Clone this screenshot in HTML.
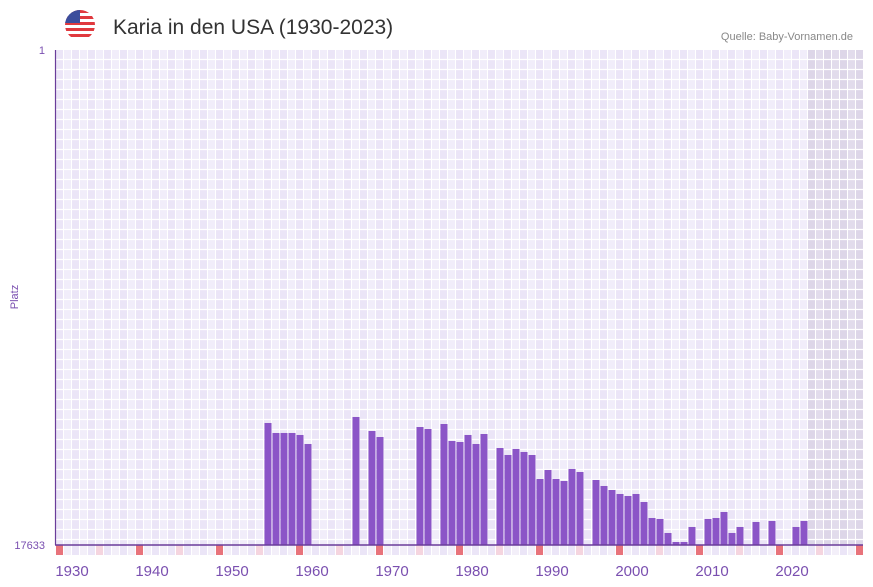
<!DOCTYPE html>
<html><head><meta charset="utf-8"><style>
body{margin:0;background:#fff;font-family:"Liberation Sans",sans-serif;}
svg{display:block}
</style></head><body>
<svg id="chart" width="873" height="587">
  <g>
    <clipPath id="fc"><circle cx="80" cy="25" r="15"/></clipPath>
    <g clip-path="url(#fc)">
      <rect x="65" y="10" width="30" height="30" fill="#fff"/>
      <rect x="65" y="10" width="30" height="3" fill="#e0393e"/>
      <rect x="65" y="16" width="30" height="3" fill="#e0393e"/>
      <rect x="65" y="22" width="30" height="3" fill="#e0393e"/>
      <rect x="65" y="28" width="30" height="3" fill="#e0393e"/>
      <rect x="65" y="34" width="30" height="3" fill="#e0393e"/>
      <rect x="65" y="10" width="15" height="13" fill="#3c4d9c"/>
    </g>
  </g>
  <text x="113" y="34" font-size="21" fill="#333">Karia in den USA (1930-2023)</text>
  <text x="853" y="40" font-size="11" fill="#888" text-anchor="end">Quelle: Baby-Vornamen.de</text>
  <text x="45" y="54" font-size="11" fill="#7a4fb0" text-anchor="end">1</text>
  <text x="45" y="549" font-size="11" fill="#7a4fb0" text-anchor="end">17633</text>
  <text x="18" y="297" font-size="11" fill="#7a4fb0" text-anchor="middle" transform="rotate(-90 18 297)">Platz</text>
  <g id="grid"></g>
  <g id="bars"></g>
  <g id="xlabels"></g>
  <line x1="55.5" y1="50" x2="55.5" y2="545" stroke="#6a3d9a" stroke-width="1.2"/>
  <line x1="55" y1="545" x2="863" y2="545" stroke="#6a3d9a" stroke-width="1.5"/>
</svg>
<script>
const years=[1956,1957,1958,1959,1960,1961,1967,1969,1970,1975,1976,1978,1979,1980,1981,1982,1983,1985,1986,1987,1988,1989,1990,1991,1992,1993,1994,1995,1997,1998,1999,2000,2001,2002,2003,2004,2005,2006,2007,2008,2009,2011,2012,2013,2014,2015,2017,2019,2022,2023];
const ranks=[13287,13643,13643,13643,13714,14035,13073,13572,13786,13430,13501,13323,13928,13964,13714,14035,13679,14178,14427,14213,14320,14427,15282,14961,15282,15353,14925,15032,15317,15531,15673,15816,15887,15816,16101,16671,16706,17205,17526,17526,16991,16706,16671,16457,17205,16991,16813,16777,16991,16777];
const xTicks=[1930,1940,1950,1960,1970,1980,1990,2000,2010,2020];
const firstYear=1930,lastYear=2030,minRank=1,maxRank=17633;
const NS="http://www.w3.org/2000/svg";
const X0=56,CW=8,Y0=50,Y1=545;
const xs=y=>X0+(y-firstYear)*CW;
const ys=r=>Y0+(r-minRank)/(maxRank-minRank)*(Y1-Y0);
function mk(t,a,p){const e=document.createElementNS(NS,t);for(const k in a)e.setAttribute(k,a[k]);p.appendChild(e);return e;}
const grid=document.getElementById('grid');
for(let y=firstYear;y<=lastYear;y++){
  const x=xs(y);const future=y>=2024;
  const c=mk('rect',{x:x,y:Y0,width:CW,height:Y1-Y0,fill:future?((y%2)?'#e2dcec':'#ddd6e8'):((y%2)?'#f1edfa':'#ebe5f7')},grid);
  
  
  let f=(y%10===0)?'#e8737b':(y%5===0)?'#f5d5df':((y%2)?'#f3eff9':'#ebe5f7');
  const b=mk('rect',{x:x,y:545,width:CW-1,height:10,fill:f},grid);
  
  
  mk('line',{x1:x+7.5,y1:Y0,x2:x+7.5,y2:Y1,stroke:'#fff','stroke-width':1},grid);
}
for(let yy=Y0+10;yy<Y1;yy+=10){mk('line',{x1:X0,y1:yy-0.5,x2:864,y2:yy-0.5,stroke:'#fff','stroke-width':1.2},grid);}
const bars=document.getElementById('bars');
years.forEach((y,i)=>{
  const t=ys(ranks[i]);
  const r=mk('rect',{x:xs(y)+0.5,y:t,width:7,height:Y1-t,fill:'#8b55c7'},bars);
  
  
});
const xl=document.getElementById('xlabels');
xTicks.forEach(y=>{
  const t=mk('text',{x:xs(y)+16,y:576,'font-size':15,fill:'#7a4fb0','text-anchor':'middle'},xl);
  t.textContent=y;
  
  
});
</script>
</body></html>
